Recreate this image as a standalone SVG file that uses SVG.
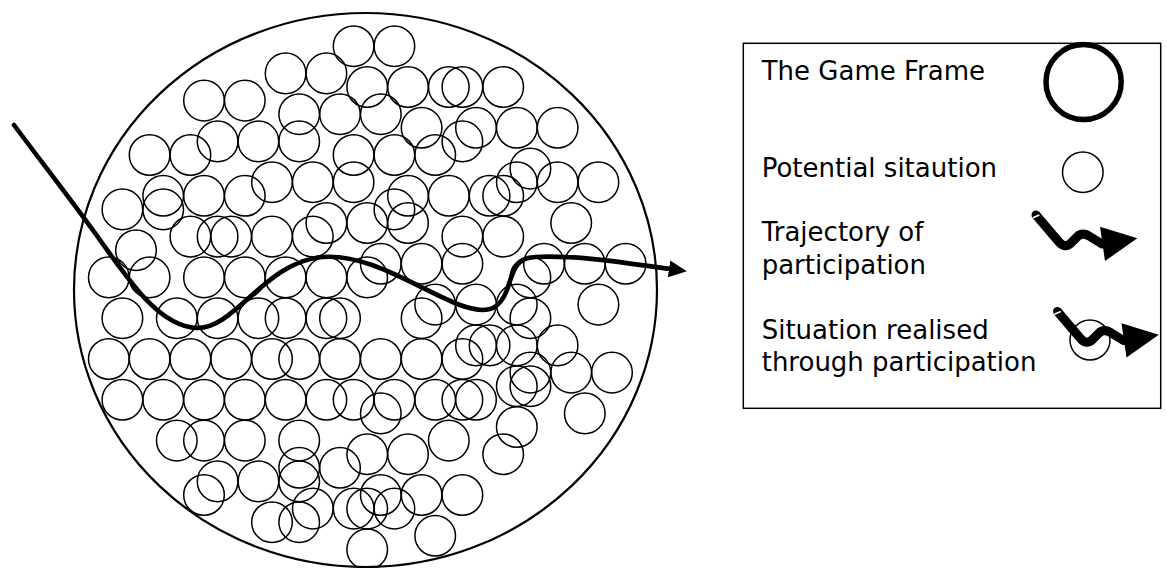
<svg xmlns="http://www.w3.org/2000/svg" xmlns:xlink="http://www.w3.org/1999/xlink" width="1167" height="568" viewBox="0 0 1167 568">
  <style>
    .frame { fill: none; stroke: #000; stroke-width: 2.2; }
    .sit circle, circle.sit { fill: none; stroke: #000; stroke-width: 1.5; }
    .traj { fill: none; stroke: #000; stroke-width: 4.6; stroke-linecap: round; stroke-linejoin: round; }
    .label { font-family: "DejaVu Sans", Verdana, sans-serif; font-size: 26px; fill: #000; }
    .legend-box { fill: #fff; stroke: #000; stroke-width: 1.5; }
  </style>
  <defs>
    <marker id="arrow" viewBox="0 0 18 17" refX="1" refY="8.5" markerWidth="18" markerHeight="17" markerUnits="userSpaceOnUse" orient="auto">
      <path d="M0,0 L18,8.5 L0,17 z" fill="#000"/>
    </marker>
    <!-- squiggly arrow icon used in the key -->
    <g id="traj-icon">
      <path d="M1036,215 L1059,242 Q1065,249 1071,243 L1077,237 Q1082,232 1089,236 L1102,244" fill="none" stroke="#000" stroke-width="9" stroke-linecap="round" stroke-linejoin="round"/>
      <polygon points="1100,226.7 1137.3,238.3 1105,261" fill="#000"/>
      <path d="M1033.5,217.6 L1038.8,215.2" stroke="#fff" stroke-width="1.6" stroke-linecap="round"/>
    </g>
  </defs>

  <rect width="1167" height="568" fill="#fff"/>

  <!-- the game frame -->
  <g id="game-frame">
    <ellipse class="frame" cx="365.5" cy="290" rx="291.5" ry="277"/>
  </g>

  <!-- potential situations, laid out on a 13.6px grid -->
  <g id="situations" class="sit">
    <g id="s03-26"><circle cx="353.6" cy="46.2" r="20.3"/></g>
    <g id="s03-29"><circle cx="394.4" cy="46.2" r="20.3"/></g>
    <g id="s05-21"><circle cx="285.6" cy="73.4" r="20.3"/></g>
    <g id="s05-24"><circle cx="326.4" cy="73.4" r="20.3"/></g>
    <g id="s06-27"><circle cx="367.2" cy="87" r="20.3"/></g>
    <g id="s06-30"><circle cx="408" cy="87" r="20.3"/></g>
    <g id="s06-33"><circle cx="448.8" cy="87" r="20.3"/></g>
    <g id="s06-34"><circle cx="462.4" cy="87" r="20.3"/></g>
    <g id="s06-37"><circle cx="503.2" cy="87" r="20.3"/></g>
    <g id="s07-15"><circle cx="204" cy="100.6" r="20.3"/></g>
    <g id="s07-18"><circle cx="244.8" cy="100.6" r="20.3"/></g>
    <g id="s08-22"><circle cx="299.2" cy="114.2" r="20.3"/></g>
    <g id="s08-25"><circle cx="340" cy="114.2" r="20.3"/></g>
    <g id="s08-28"><circle cx="380.8" cy="114.2" r="20.3"/></g>
    <g id="s09-31"><circle cx="421.6" cy="127.8" r="20.3"/></g>
    <g id="s09-35"><circle cx="476" cy="127.8" r="20.3"/></g>
    <g id="s09-38"><circle cx="516.8" cy="127.8" r="20.3"/></g>
    <g id="s09-41"><circle cx="557.6" cy="127.8" r="20.3"/></g>
    <g id="s10-16"><circle cx="217.6" cy="141.4" r="20.3"/></g>
    <g id="s10-19"><circle cx="258.4" cy="141.4" r="20.3"/></g>
    <g id="s10-22"><circle cx="299.2" cy="141.4" r="20.3"/></g>
    <g id="s10-34"><circle cx="462.4" cy="141.4" r="20.3"/></g>
    <g id="s11-11"><circle cx="149.6" cy="155" r="20.3"/></g>
    <g id="s11-14"><circle cx="190.4" cy="155" r="20.3"/></g>
    <g id="s11-26"><circle cx="353.6" cy="155" r="20.3"/></g>
    <g id="s11-29"><circle cx="394.4" cy="155" r="20.3"/></g>
    <g id="s11-32"><circle cx="435.2" cy="155" r="20.3"/></g>
    <g id="s12-39"><circle cx="530.4" cy="168.6" r="20.3"/></g>
    <g id="s13-20"><circle cx="272" cy="182.2" r="20.3"/></g>
    <g id="s13-23"><circle cx="312.8" cy="182.2" r="20.3"/></g>
    <g id="s13-26"><circle cx="353.6" cy="182.2" r="20.3"/></g>
    <g id="s13-38"><circle cx="516.8" cy="182.2" r="20.3"/></g>
    <g id="s13-41"><circle cx="557.6" cy="182.2" r="20.3"/></g>
    <g id="s13-44"><circle cx="598.4" cy="182.2" r="20.3"/></g>
    <g id="s14-12"><circle cx="163.2" cy="195.8" r="20.3"/></g>
    <g id="s14-15"><circle cx="204" cy="195.8" r="20.3"/></g>
    <g id="s14-18"><circle cx="244.8" cy="195.8" r="20.3"/></g>
    <g id="s14-30"><circle cx="408" cy="195.8" r="20.3"/></g>
    <g id="s14-33"><circle cx="448.8" cy="195.8" r="20.3"/></g>
    <g id="s14-36"><circle cx="489.6" cy="195.8" r="20.3"/></g>
    <g id="s14-37"><circle cx="503.2" cy="195.8" r="20.3"/></g>
    <g id="s15-09"><circle cx="122.4" cy="209.4" r="20.3"/></g>
    <g id="s15-12"><circle cx="163.2" cy="209.4" r="20.3"/></g>
    <g id="s15-29"><circle cx="394.4" cy="209.4" r="20.3"/></g>
    <g id="s16-24"><circle cx="326.4" cy="223" r="20.3"/></g>
    <g id="s16-27"><circle cx="367.2" cy="223" r="20.3"/></g>
    <g id="s16-30"><circle cx="408" cy="223" r="20.3"/></g>
    <g id="s16-42"><circle cx="571.2" cy="223" r="20.3"/></g>
    <g id="s17-14"><circle cx="190.4" cy="236.6" r="20.3"/></g>
    <g id="s17-16"><circle cx="217.6" cy="236.6" r="20.3"/></g>
    <g id="s17-17"><circle cx="231.2" cy="236.6" r="20.3"/></g>
    <g id="s17-20"><circle cx="272" cy="236.6" r="20.3"/></g>
    <g id="s17-23"><circle cx="312.8" cy="236.6" r="20.3"/></g>
    <g id="s17-34"><circle cx="462.4" cy="236.6" r="20.3"/></g>
    <g id="s17-37"><circle cx="503.2" cy="236.6" r="20.3"/></g>
    <g id="s18-10"><circle cx="136" cy="250.2" r="20.3"/></g>
    <g id="s19-28"><circle cx="380.8" cy="263.8" r="20.3"/></g>
    <g id="s19-31"><circle cx="421.6" cy="263.8" r="20.3"/></g>
    <g id="s19-34"><circle cx="462.4" cy="263.8" r="20.3"/></g>
    <g id="s19-40"><circle cx="544" cy="263.8" r="20.3"/></g>
    <g id="s19-43"><circle cx="584.8" cy="263.8" r="20.3"/></g>
    <g id="s19-46"><circle cx="625.6" cy="263.8" r="20.3"/></g>
    <g id="s20-08"><circle cx="108.8" cy="277.4" r="20.3"/></g>
    <g id="s20-11"><circle cx="149.6" cy="277.4" r="20.3"/></g>
    <g id="s20-15"><circle cx="204" cy="277.4" r="20.3"/></g>
    <g id="s20-18"><circle cx="244.8" cy="277.4" r="20.3"/></g>
    <g id="s20-21"><circle cx="285.6" cy="277.4" r="20.3"/></g>
    <g id="s20-24"><circle cx="326.4" cy="277.4" r="20.3"/></g>
    <g id="s20-27"><circle cx="367.2" cy="277.4" r="20.3"/></g>
    <g id="s20-39"><circle cx="530.4" cy="277.4" r="20.3"/></g>
    <g id="s22-32"><circle cx="435.2" cy="304.6" r="20.3"/></g>
    <g id="s22-35"><circle cx="476" cy="304.6" r="20.3"/></g>
    <g id="s22-38"><circle cx="516.8" cy="304.6" r="20.3"/></g>
    <g id="s22-44"><circle cx="598.4" cy="304.6" r="20.3"/></g>
    <g id="s23-09"><circle cx="122.4" cy="318.2" r="20.3"/></g>
    <g id="s23-13"><circle cx="176.8" cy="318.2" r="20.3"/></g>
    <g id="s23-16"><circle cx="217.6" cy="318.2" r="20.3"/></g>
    <g id="s23-19"><circle cx="258.4" cy="318.2" r="20.3"/></g>
    <g id="s23-21"><circle cx="285.6" cy="318.2" r="20.3"/></g>
    <g id="s23-24"><circle cx="326.4" cy="318.2" r="20.3"/></g>
    <g id="s23-25"><circle cx="340" cy="318.2" r="20.3"/></g>
    <g id="s23-31"><circle cx="421.6" cy="318.2" r="20.3"/></g>
    <g id="s23-39"><circle cx="530.4" cy="318.2" r="20.3"/></g>
    <g id="s25-35"><circle cx="476" cy="345.4" r="20.3"/></g>
    <g id="s25-36"><circle cx="489.6" cy="345.4" r="20.3"/></g>
    <g id="s25-38"><circle cx="516.8" cy="345.4" r="20.3"/></g>
    <g id="s25-41"><circle cx="557.6" cy="345.4" r="20.3"/></g>
    <g id="s26-08"><circle cx="108.8" cy="359" r="20.3"/></g>
    <g id="s26-11"><circle cx="149.6" cy="359" r="20.3"/></g>
    <g id="s26-14"><circle cx="190.4" cy="359" r="20.3"/></g>
    <g id="s26-17"><circle cx="231.2" cy="359" r="20.3"/></g>
    <g id="s26-20"><circle cx="272" cy="359" r="20.3"/></g>
    <g id="s26-22"><circle cx="299.2" cy="359" r="20.3"/></g>
    <g id="s26-25"><circle cx="340" cy="359" r="20.3"/></g>
    <g id="s26-28"><circle cx="380.8" cy="359" r="20.3"/></g>
    <g id="s26-31"><circle cx="421.6" cy="359" r="20.3"/></g>
    <g id="s26-34"><circle cx="462.4" cy="359" r="20.3"/></g>
    <g id="s27-39"><circle cx="530.4" cy="372.6" r="20.3"/></g>
    <g id="s27-42"><circle cx="571.2" cy="372.6" r="20.3"/></g>
    <g id="s27-45"><circle cx="612" cy="372.6" r="20.3"/></g>
    <g id="s28-38"><circle cx="516.8" cy="386.2" r="20.3"/></g>
    <g id="s28-39"><circle cx="530.4" cy="386.2" r="20.3"/></g>
    <g id="s29-09"><circle cx="122.4" cy="399.8" r="20.3"/></g>
    <g id="s29-12"><circle cx="163.2" cy="399.8" r="20.3"/></g>
    <g id="s29-15"><circle cx="204" cy="399.8" r="20.3"/></g>
    <g id="s29-18"><circle cx="244.8" cy="399.8" r="20.3"/></g>
    <g id="s29-21"><circle cx="285.6" cy="399.8" r="20.3"/></g>
    <g id="s29-24"><circle cx="326.4" cy="399.8" r="20.3"/></g>
    <g id="s29-26"><circle cx="353.6" cy="399.8" r="20.3"/></g>
    <g id="s29-29"><circle cx="394.4" cy="399.8" r="20.3"/></g>
    <g id="s29-32"><circle cx="435.2" cy="399.8" r="20.3"/></g>
    <g id="s29-34"><circle cx="462.4" cy="399.8" r="20.3"/></g>
    <g id="s29-35"><circle cx="476" cy="399.8" r="20.3"/></g>
    <g id="s30-28"><circle cx="380.8" cy="413.4" r="20.3"/></g>
    <g id="s30-43"><circle cx="584.8" cy="413.4" r="20.3"/></g>
    <g id="s31-38"><circle cx="516.8" cy="427" r="20.3"/></g>
    <g id="s32-13"><circle cx="176.8" cy="440.6" r="20.3"/></g>
    <g id="s32-15"><circle cx="204" cy="440.6" r="20.3"/></g>
    <g id="s32-18"><circle cx="244.8" cy="440.6" r="20.3"/></g>
    <g id="s32-22"><circle cx="299.2" cy="440.6" r="20.3"/></g>
    <g id="s32-33"><circle cx="448.8" cy="440.6" r="20.3"/></g>
    <g id="s33-27"><circle cx="367.2" cy="454.2" r="20.3"/></g>
    <g id="s33-30"><circle cx="408" cy="454.2" r="20.3"/></g>
    <g id="s33-37"><circle cx="503.2" cy="454.2" r="20.3"/></g>
    <g id="s34-22"><circle cx="299.2" cy="467.8" r="20.3"/></g>
    <g id="s34-25"><circle cx="340" cy="467.8" r="20.3"/></g>
    <g id="s35-16"><circle cx="217.6" cy="481.4" r="20.3"/></g>
    <g id="s35-19"><circle cx="258.4" cy="481.4" r="20.3"/></g>
    <g id="s35-22"><circle cx="299.2" cy="481.4" r="20.3"/></g>
    <g id="s36-15"><circle cx="204" cy="495" r="20.3"/></g>
    <g id="s36-28"><circle cx="380.8" cy="495" r="20.3"/></g>
    <g id="s36-31"><circle cx="421.6" cy="495" r="20.3"/></g>
    <g id="s36-34"><circle cx="462.4" cy="495" r="20.3"/></g>
    <g id="s37-23"><circle cx="312.8" cy="508.6" r="20.3"/></g>
    <g id="s37-26"><circle cx="353.6" cy="508.6" r="20.3"/></g>
    <g id="s37-27"><circle cx="367.2" cy="508.6" r="20.3"/></g>
    <g id="s37-29"><circle cx="394.4" cy="508.6" r="20.3"/></g>
    <g id="s38-20"><circle cx="272" cy="522.2" r="20.3"/></g>
    <g id="s38-22"><circle cx="299.2" cy="522.2" r="20.3"/></g>
    <g id="s39-32"><circle cx="435.2" cy="535.8" r="20.3"/></g>
    <g id="s40-27"><circle cx="367.2" cy="549.4" r="20.3"/></g>
  </g>

  <!-- trajectory of participation -->
  <g id="connectors">
    <path id="trajectory" class="traj" marker-end="url(#arrow)"
      d="M14,125 C40,160 75,205 100,240 C130,282 160,327 197,328 C235,329 265,262 322,257 C370,253 420,290 460,305 C490,316 500,308 507,290 C513,272 515,258 535,257 C575,255 620,262 670,269"/>
  </g>

  <!-- key -->
  <g id="legend">
    <rect class="legend-box" x="743.3" y="43.3" width="417.4" height="365"/>
    <g id="key-frame">
      <text class="label" x="761.7" y="80">The Game Frame</text>
      <circle cx="1083.6" cy="82" r="37.6" fill="none" stroke="#000" stroke-width="5.5"/>
    </g>
    <g id="key-situation">
      <text class="label" x="761.7" y="176.7">Potential sitaution</text>
      <circle class="sit" cx="1082.8" cy="172.2" r="20.3"/>
    </g>
    <g id="key-trajectory">
      <text class="label" x="761.7" y="240.7">Trajectory of</text>
      <text class="label" x="761.7" y="274.3">participation</text>
      <use xlink:href="#traj-icon" href="#traj-icon"/>
    </g>
    <g id="key-realised">
      <text class="label" x="761.7" y="339.3">Situation realised</text>
      <text class="label" x="761.7" y="371">through participation</text>
      <circle class="sit" cx="1090" cy="340" r="20"/>
      <use xlink:href="#traj-icon" href="#traj-icon" transform="translate(21.5 96.5)"/>
    </g>
  </g>
</svg>
